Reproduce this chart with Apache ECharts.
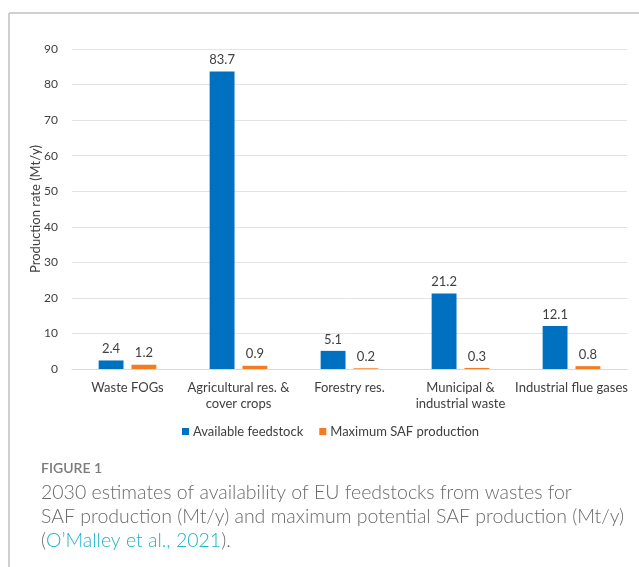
<!DOCTYPE html>
<html>
<head>
<meta charset="utf-8">
<script src="https://cdn.jsdelivr.net/npm/echarts@6/dist/echarts.min.js"></script>
<style>
  html, body { margin: 0; padding: 0; background: #fff; }
  #chart { width: 639px; height: 567px; }
</style>
</head>
<body>
<div id="chart"></div>
<script>
// Feedstock categories and the two series (Mt/y)
const categories = [
  'Waste FOGs',
  'Agricultural res. &\ncover crops',
  'Forestry res.',
  'Municipal &\nindustrial waste',
  'Industrial flue gases'
];
const availableFeedstock = [2.4, 83.7, 5.1, 21.2, 12.1];
const maxSafProduction = [1.2, 0.9, 0.2, 0.3, 0.8];
const seriesNames = ['Available feedstock', 'Maximum SAF production'];
const yTicks = { min: 0, max: 90, interval: 10 };

const font = 'Lato, "Open Sans", sans-serif';
const chart = echarts.init(document.getElementById('chart'));

const labelStyle = {
  show: true,
  position: 'top',
  distance: 5,
  color: '#404040',
  fontSize: 13,
  fontFamily: font
};

chart.setOption({
  animation: false,
  grid: { left: 72, right: 12, top: 49, bottom: 198 },
  legend: {
    data: seriesNames,
    top: 420,
    left: 177,
    itemWidth: 7,
    itemHeight: 7,
    itemGap: 16,
    icon: 'rect',
    textStyle: { color: '#404040', fontSize: 13, fontFamily: font, padding: [0, 0, 0, -1] }
  },
  xAxis: {
    type: 'category',
    data: categories,
    axisTick: { show: false },
    axisLine: { lineStyle: { color: '#d9d9d9' } },
    axisLabel: {
      interval: 0,
      color: '#404040',
      fontSize: 13,
      lineHeight: 16,
      margin: 11,
      fontFamily: font
    }
  },
  yAxis: {
    type: 'value',
    min: yTicks.min,
    max: yTicks.max,
    interval: yTicks.interval,
    name: 'Production rate (Mt/y)',
    nameLocation: 'middle',
    nameGap: 30,
    nameMoveOverlap: false,
    nameTextStyle: { color: '#404040', fontSize: 13, fontFamily: font },
    axisLabel: { color: '#404040', fontSize: 12, margin: 14, fontFamily: font },
    splitLine: { lineStyle: { color: '#e3e3e3' } }
  },
  series: [
    {
      name: seriesNames[0],
      type: 'bar',
      data: availableFeedstock,
      itemStyle: { color: '#0070C0' },
      barGap: '32%',
      barCategoryGap: '48%',
      label: labelStyle
    },
    {
      name: seriesNames[1],
      type: 'bar',
      data: maxSafProduction,
      itemStyle: { color: '#F47B20' },
      label: labelStyle
    }
  ],
  graphic: [
    { type: 'line', shape: { x1: 9, y1: 13, x2: 639, y2: 13 },
      style: { stroke: '#d0d0d0', lineWidth: 2 } },
    { type: 'line', shape: { x1: 9, y1: 13, x2: 9, y2: 567 },
      style: { stroke: '#d0d0d0', lineWidth: 2 } },
    { type: 'text', left: 41, top: 461,
      style: { text: 'FIGURE 1', fill: '#7a7a7a', font: '600 14px ' + font } },
    { type: 'text', left: 41, top: 483,
      style: { text: '2030 estimates of availability of EU feedstocks from wastes for',
               fill: '#6a6a6a', font: '300 19.5px ' + font } },
    { type: 'text', left: 41, top: 507,
      style: { text: 'SAF production (Mt/y) and maximum potential SAF production (Mt/y)',
               fill: '#6a6a6a', font: '300 19.5px ' + font } },
    { type: 'text', left: 41, top: 531,
      style: {
        text: '({c|O\u2019Malley et al., 2021}).',
        fill: '#6a6a6a', font: '300 19.5px ' + font,
        rich: { c: { fill: '#1fb3c9', font: '300 19.5px ' + font } }
      } }
  ]
});
</script>
</body>
</html>
